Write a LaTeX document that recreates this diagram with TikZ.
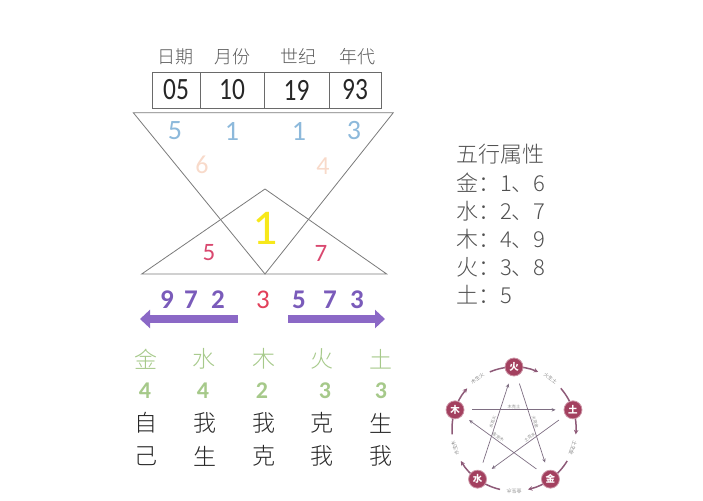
\documentclass[tikz,border=0pt]{standalone}
\usepackage{fontspec}
\setmainfont{Carlito}
\IfFontExistsTF{Noto Sans CJK SC Light}{\newfontfamily\cjk{Noto Sans CJK SC Light}}{\newfontfamily\cjk{Noto Sans CJK SC}}
\newfontfamily\cjkb{Noto Sans CJK SC}
\newfontfamily\boxdig[FakeStretch=0.82]{Carlito}
\usetikzlibrary{arrows.meta}
\definecolor{hdrgray}{HTML}{5A5A5A}
\definecolor{boxgray}{HTML}{6A6A6A}
\definecolor{trigray}{HTML}{7A7A7A}
\definecolor{lblue}{HTML}{8DB9DB}
\definecolor{peach}{HTML}{F8DACA}
\definecolor{yel}{HTML}{F7E81A}
\definecolor{crim}{HTML}{D9486F}
\definecolor{apurple}{HTML}{8B68C6}
\definecolor{dpurple}{HTML}{7A5BBA}
\definecolor{redthree}{HTML}{E2405A}
\definecolor{lgreen}{HTML}{A6C98A}
\definecolor{txtdark}{HTML}{262626}
\definecolor{attrgray}{HTML}{505050}
\definecolor{elemred}{HTML}{A3405F}
\definecolor{cycpurple}{HTML}{8E5A78}
\definecolor{starline}{HTML}{7E6E82}
\definecolor{tinygray}{HTML}{8A8A8A}
\begin{document}
\begin{tikzpicture}[x=1pt,y=-1pt,
  hdr/.style={font=\cjk\fontsize{18}{18}\selectfont, text=hdrgray, inner sep=0pt},
  cell/.style={draw=boxgray, line width=0.8pt, minimum height=36pt, inner sep=0pt,
    font=\boxdig\fontsize{31}{31}\selectfont, text=txtdark},
  triline/.style={draw=trigray, line width=0.8pt, line join=miter},
  dig/.style={inner sep=0pt, font=\fontsize{#1}{#1}\selectfont},
  pdig/.style={inner sep=0pt, text=dpurple, font=\bfseries\fontsize{27}{27}\selectfont},
  bigarrow/.style={draw=apurple, line width=8pt, -{Triangle[length=10pt,width=18pt]}},
  elemtxt/.style={inner sep=0pt, font=\cjk\fontsize{23}{23}\selectfont},
  gdig/.style={inner sep=0pt, text=lgreen, font=\bfseries\fontsize{24}{24}\selectfont},
  attr/.style={anchor=west, inner sep=0pt, text=attrgray, font=\cjk\fontsize{22}{22}\selectfont},
  elem/.style={circle, fill=elemred, draw=elemred!55, line width=0.8pt, text=white,
    font=\cjkb\bfseries\fontsize{9.5}{9.5}\selectfont, inner sep=0pt, minimum size=18pt},
  cyc/.style={draw=cycpurple, line width=1.5pt, -{Stealth[length=4.5pt,width=4.5pt]}},
  cyclbl/.style={inner sep=0pt, text=tinygray, font=\cjkb\fontsize{5}{5}\selectfont},
  star/.style={draw=starline, line width=0.7pt, shorten <=8pt, shorten >=8pt,
    -{Stealth[length=4pt,width=3.5pt]}},
  starlbl/.style={inner sep=1pt, text=tinygray, font=\cjkb\fontsize{4.2}{4.2}\selectfont}
]
\useasboundingbox (0,0) rectangle (703,500);

% header labels
\node[hdr] (h1) at (175,57) {日期};
\node[hdr] (h2) at (232,57) {月份};
\node[hdr] (h3) at (298,57) {世纪};
\node[hdr] (h4) at (357,57) {年代};

% boxes
\node[cell, minimum width=48pt] (b1) at (176,90) {05};
\node[cell, minimum width=64pt] (b2) at (232,90) {10};
\node[cell, minimum width=65pt] (b3) at (296.5,90) {19};
\node[cell, minimum width=52pt] (b4) at (355,90) {93};

% triangles
\coordinate (tA) at (133.3,112.7);
\coordinate (tB) at (393.3,112.7);
\coordinate (tC) at (265,274);
\coordinate (tD) at (141.7,274);
\coordinate (tE) at (386.7,274);
\coordinate (tF) at (265,189);
\draw[triline] (tA) -- (tB) -- (tC) -- cycle;
\draw[triline] (tD) -- (tE) -- (tF) -- cycle;

% digits in triangles
\node[dig=28, text=lblue] (n1) at (175,131) {5};
\node[dig=28, text=lblue] (n2) at (232,131) {1};
\node[dig=28, text=lblue] (n3) at (299,131) {1};
\node[dig=28, text=lblue] (n4) at (354,131) {3};
\node[dig=26, text=peach] (n5) at (202,165) {6};
\node[dig=26, text=peach] (n6) at (323,166) {4};
\node[dig=50, text=yel] (n7) at (265,228) {1};
\node[dig=25, text=crim] (n8) at (209,253) {5};
\node[dig=25, text=crim] (n9) at (321,253) {7};

% arrow row digits
\node[pdig] (r1) at (167,300) {9};
\node[pdig] (r2) at (191,300) {7};
\node[pdig] (r3) at (218,300) {2};
\node[dig=27, text=redthree] (r4) at (263,300) {3};
\node[pdig] (r5) at (299,300) {5};
\node[pdig] (r6) at (330,300) {7};
\node[pdig] (r7) at (357,300) {3};

% thick arrows
\coordinate (la1) at (238,319);
\coordinate (la2) at (140,319);
\coordinate (ra1) at (288,319);
\coordinate (ra2) at (385,319);
\draw[bigarrow] (la1) -- (la2);
\draw[bigarrow] (ra1) -- (ra2);

% element table
\node[elemtxt, text=lgreen] (e1) at (146,359) {金};
\node[elemtxt, text=lgreen] (e2) at (204,359) {水};
\node[elemtxt, text=lgreen] (e3) at (264,359) {木};
\node[elemtxt, text=lgreen] (e4) at (322,359) {火};
\node[elemtxt, text=lgreen] (e5) at (381,359) {土};
\node[gdig] (g1) at (145,391) {4};
\node[gdig] (g2) at (203,391) {4};
\node[gdig] (g3) at (262,391) {2};
\node[gdig] (g4) at (325,391) {3};
\node[gdig] (g5) at (381,391) {3};
\node[elemtxt, text=txtdark] (s1) at (146,423) {自};
\node[elemtxt, text=txtdark] (s2) at (205,423) {我};
\node[elemtxt, text=txtdark] (s3) at (264,423) {我};
\node[elemtxt, text=txtdark] (s4) at (322,423) {克};
\node[elemtxt, text=txtdark] (s5) at (381,423) {生};
\node[elemtxt, text=txtdark] (t1) at (146,456) {己};
\node[elemtxt, text=txtdark] (t2) at (205,456) {生};
\node[elemtxt, text=txtdark] (t3) at (264,456) {克};
\node[elemtxt, text=txtdark] (t4) at (322,456) {我};
\node[elemtxt, text=txtdark] (t5) at (381,456) {我};

% attributes
\node[attr] (a0) at (456,154) {五行属性};
\node[attr] (a1) at (456,183) {金：1、6};
\node[attr] (a2) at (456,211) {水：2、7};
\node[attr] (a3) at (456,239) {木：4、9};
\node[attr] (a4) at (456,267) {火：3、8};
\node[attr] (a5) at (456,295) {土：5};

% five elements cycle diagram
\begin{scope}[shift={(514,429)}]
  \draw[cyc] (113:62pt) arc[start angle=113, end angle=67, radius=62pt];
  \draw[cyc] (41:62pt) arc[start angle=41, end angle=-5, radius=62pt];
  \draw[cyc] (-31:62pt) arc[start angle=-31, end angle=-77, radius=62pt];
  \draw[cyc] (-103:62pt) arc[start angle=-103, end angle=-149, radius=62pt];
  \draw[cyc] (185:62pt) arc[start angle=185, end angle=139, radius=62pt];
  \node[cyclbl, rotate=-36] (c1) at (54:62pt) {火生土};
  \node[cyclbl, rotate=-108] (c2) at (-18:62pt) {土生金};
  \node[cyclbl, rotate=180] (c3) at (-90:62pt) {金生水};
  \node[cyclbl, rotate=108] (c4) at (198:62pt) {水生木};
  \node[cyclbl, rotate=36] (c5) at (126:62pt) {木生火};
  \node[elem] (huo) at (90:62pt) {火};
  \node[elem] (tu) at (18:62pt) {土};
  \node[elem] (jin) at (-54:62pt) {金};
  \node[elem] (shui) at (-126:62pt) {水};
  \node[elem] (mu) at (162:62pt) {木};
  \draw[star] (mu) -- node[starlbl, sloped, above, pos=0.5] {木克土} (tu);
  \draw[star] (tu) -- node[starlbl, sloped, above, pos=0.42] {土克水} (shui);
  \draw[star] (shui) -- node[starlbl, sloped, above, pos=0.5] {水克火} (huo);
  \draw[star] (huo) -- node[starlbl, sloped, above, pos=0.5] {火克金} (jin);
  \draw[star] (jin) -- node[starlbl, sloped, above, pos=0.58] {金克木} (mu);
\end{scope}
\end{tikzpicture}
\end{document}
